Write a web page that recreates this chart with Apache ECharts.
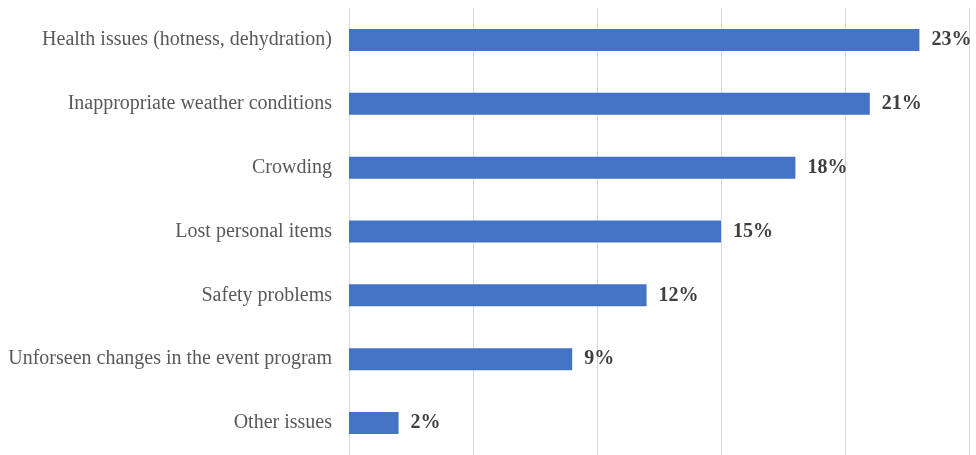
<!DOCTYPE html>
<html>
<head>
<meta charset="utf-8">
<script src="https://cdn.jsdelivr.net/npm/echarts@6/dist/echarts.min.js"></script>
<style>
  html, body { margin: 0; padding: 0; background: #fff; }
  #chart { width: 976px; height: 455px; }
</style>
</head>
<body>
<div id="chart"></div>
<script>
const categories = [
  'Health issues (hotness, dehydration)',
  'Inappropriate weather conditions',
  'Crowding',
  'Lost personal items',
  'Safety problems',
  'Unforseen changes in the event program',
  'Other issues'
]
const shares = [23, 21, 18, 15, 12, 9, 2]

const chart = echarts.init(document.getElementById('chart'))
chart.setOption({
  animation: false,
  grid: { left: 349, right: 7, top: 8, height: 448 },
  xAxis: {
    type: 'value',
    min: 0,
    max: 25,
    interval: 5,
    axisLabel: { show: false },
    axisLine: { show: false },
    axisTick: { show: false },
    splitLine: { lineStyle: { color: '#d9d9d9', width: 1 } }
  },
  yAxis: {
    type: 'category',
    inverse: true,
    data: categories,
    axisLine: { show: true, lineStyle: { color: '#d9d9d9' } },
    axisTick: { show: false },
    axisLabel: {
      margin: 17,
      color: '#595959',
      fontFamily: 'Liberation Serif',
      fontSize: 20
    }
  },
  series: [{
    type: 'bar',
    data: shares,
    barWidth: 22,
    itemStyle: { color: '#4472c4' },
    label: {
      show: true,
      position: 'right',
      distance: 12,
      formatter: '{c}%',
      color: '#404040',
      fontFamily: 'Liberation Serif',
      fontWeight: 'bold',
      fontSize: 20
    }
  }]
})
</script>
</body>
</html>
